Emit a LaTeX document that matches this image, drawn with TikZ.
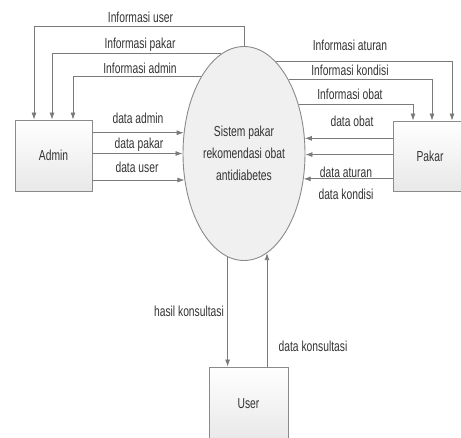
\documentclass[tikz,border=0pt]{standalone}
\usepackage{fontspec}
\setmainfont[FakeStretch=0.71]{Liberation Sans}
\usetikzlibrary{shapes.geometric,arrows.meta,calc}
\definecolor{linegray}{HTML}{7A7A7A}
\definecolor{boxborder}{HTML}{8A8A8A}
\definecolor{txt}{HTML}{333333}
\tikzset{
  entity/.style={draw=boxborder, line width=0.9pt, top color=white, bottom color=black!9, text=txt, font=\fontsize{14.5}{16}\selectfont, inner sep=0pt},
  process/.style={ellipse, draw=boxborder, line width=0.9pt, fill=black!6, text=txt, font=\fontsize{14.5}{22}\selectfont, align=center, inner sep=0pt, minimum width=122pt, minimum height=214pt},
  flow/.style={draw=linegray, line width=0.8pt, -{Latex[length=7pt,width=5pt]}},
  lbl/.style={text=txt, font=\fontsize{14.5}{16}\selectfont, inner sep=0pt},
}
\begin{document}
\begin{tikzpicture}[x=1pt,y=1pt]
\useasboundingbox (0,0) rectangle (461,-437);
\begin{scope}
\clip (0,0) rectangle (461,-437);
\node[process] (sys) at (244,-153.5) {Sistem pakar\\rekomendasi obat\\antidiabetes};
\node[entity, minimum width=77pt, minimum height=71pt] (admin) at (53.5,-155.5) {Admin};
\node[entity, minimum width=74pt, minimum height=70pt] (pakar) at (430,-156) {Pakar};
\node[entity, minimum width=79pt, minimum height=73pt] (user) at (248.5,-403.5) {User};

% Admin side: outputs from system
\draw[flow] (sys.north) -- ++(0,20) -| ([xshift=-19.5pt]admin.north);
\draw[flow] (sys.103.6) -| ([xshift=-1.5pt]admin.north);
\draw[flow] (sys.119.8) -| ([xshift=19.5pt]admin.north);
% Admin side: inputs to system
\draw[flow] (admin.east |- sys.161.1) -- (sys.161.1);
\draw[flow] (admin.east |- sys.180.5) -- (sys.180.5);
\draw[flow] (admin.east |- sys.204.2) -- (sys.204.2);

% Pakar side: outputs from system
\draw[flow] (sys.71.6) -| ([xshift=22pt]pakar.north);
\draw[flow] (sys.59.5) -| ([xshift=2pt]pakar.north);
\draw[flow] (sys.42.5) -| ([xshift=-17pt]pakar.north);
% Pakar side: inputs to system
\draw[flow] (pakar.west |- sys.14.4) -- (sys.14.4);
\draw[flow] (pakar.west |- sys.-1.4) -- (sys.-1.4);
\draw[flow] (pakar.west |- sys.-23.3) -- (sys.-23.3);

% User
\draw[flow] (sys.261.8) -- (sys.261.8 |- user.north);
\draw[flow] (sys.283.7 |- user.north) -- (sys.283.7);
\end{scope}

% labels
\node[lbl] (l1) at (140.5,-17) {Informasi user};
\node[lbl] (l2) at (140,-45) {Informasi pakar};
\node[lbl] (l3) at (140,-68) {Informasi admin};
\node[lbl] (l4) at (138,-118) {data admin};
\node[lbl] (l5) at (139,-145) {data pakar};
\node[lbl] (l6) at (137,-167) {data user};
\node[lbl] (r1) at (350,-45) {Informasi aturan};
\node[lbl] (r2) at (350,-70) {Informasi kondisi};
\node[lbl] (r3) at (350,-94) {Informasi obat};
\node[lbl] (r4) at (352,-121) {data obat};
\node[lbl] (r5) at (346,-172) {data aturan};
\node[lbl] (r6) at (346,-194) {data kondisi};
\node[lbl] (b1) at (189,-311) {hasil konsultasi};
\node[lbl] (b2) at (313,-346) {data konsultasi};
\end{tikzpicture}
\end{document}
